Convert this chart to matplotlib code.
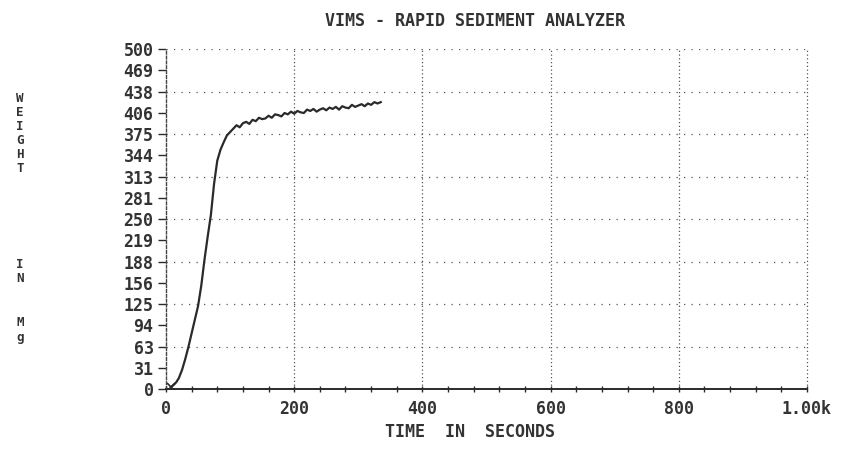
import numpy as np
import matplotlib
matplotlib.use("Agg")
import matplotlib.pyplot as plt
from matplotlib.ticker import MultipleLocator

# sediment weight record
time_s = [8, 12, 16, 20, 25, 30, 35, 40, 45, 50, 55, 60, 65, 70, 75, 80, 85, 90, 95, 100,
          105, 110, 115, 120, 125, 130, 135, 140, 145, 150, 155, 160, 165, 170, 175, 180,
          185, 190, 195, 200, 205, 210, 215, 220, 225, 230, 235, 240, 245, 250, 255, 260,
          265, 270, 275, 280, 285, 290, 295, 300, 305, 310, 315, 320, 325, 330, 335]
weight_mg = [3, 6, 10, 16, 28, 44, 62, 82, 102, 122, 152, 190, 224, 256, 302, 336, 352, 363, 373, 378,
             383, 388, 385, 391, 393, 390, 396, 394, 399, 397, 398, 402, 399, 404, 403, 401,
             406, 404, 408, 405, 409, 407, 406, 411, 409, 412, 408, 411, 413, 410, 414, 412,
             415, 411, 416, 414, 413, 418, 415, 417, 419, 416, 420, 418, 422, 420, 422]

y_ticks = [i * 500 / 16 for i in range(17)]
y_labels = ["0", "31", "63", "94", "125", "156", "188", "219", "250", "281", "313",
            "344", "375", "406", "438", "469", "500"]
x_ticks = [0, 200, 400, 600, 800, 1000]
x_labels = ["0", "200", "400", "600", "800", "1.00k"]

title = "VIMS - RAPID SEDIMENT ANALYZER"
x_title = "TIME  IN  SECONDS"

ink = "#2a2a2a"
mono = "DejaVu Sans Mono"

fig = plt.figure(figsize=(8.5, 4.59), dpi=100)
ax = fig.add_axes([0.1953, 0.1525, 0.7541, 0.7405])

# dotted grid, every other y tick and every x tick
ax.hlines(y_ticks[2::2], 0, 1000, colors="#555555", linestyles=(0, (1, 5)), linewidth=0.9)
ax.vlines(x_ticks[1:], 0, 500, colors="#555555", linestyles=(0, (1, 2)), linewidth=0.9,
          clip_on=False)

ax.plot(time_s, weight_mg, color=ink, linewidth=1.6)
ax.plot(time_s[0], weight_mg[0], marker="x", color=ink, markersize=6, markeredgewidth=1.2)

ax.set_xlim(0, 1000)
ax.set_ylim(0, 500)

ax.set_yticks(y_ticks)
ax.set_yticklabels(y_labels, fontfamily=mono, fontsize=12, fontweight="bold", color="#333333")
ax.set_xticks(x_ticks)
ax.set_xticklabels(x_labels, fontfamily=mono, fontsize=12, fontweight="bold", color="#333333")
ax.xaxis.set_minor_locator(MultipleLocator(40))

ax.tick_params(axis="y", direction="out", length=6, width=1.0, color=ink, pad=3)
ax.tick_params(axis="x", which="both", direction="inout", length=4, width=1.0, color=ink, pad=6)

for side in ["top", "right"]:
    ax.spines[side].set_visible(False)
ax.spines["bottom"].set_color(ink)
ax.spines["bottom"].set_linewidth(1.4)
ax.spines["left"].set_color("#444444")
ax.spines["left"].set_linewidth(1.0)
ax.spines["left"].set_linestyle((0, (2, 1.5)))

fig.text(0.559, 0.955, title, ha="center", va="center", fontfamily=mono,
         fontsize=12, fontweight="bold", color="#333333")
fig.text(0.553, 0.058, x_title, ha="center", va="center", fontfamily=mono,
         fontsize=12, fontweight="bold", color="#333333")

# stacked y-axis title letters
letters = [("W", 99), ("E", 113), ("I", 127), ("G", 141), ("H", 155), ("T", 169),
           ("I", 264), ("N", 278), ("M", 323), ("g", 338)]
for ch, py in letters:
    fig.text(20 / 850, 1 - py / 459, ch, ha="center", va="center", fontfamily=mono,
             fontsize=9, fontweight="bold", color="#333333")

fig.savefig("out.png", dpi=100, facecolor="white")
